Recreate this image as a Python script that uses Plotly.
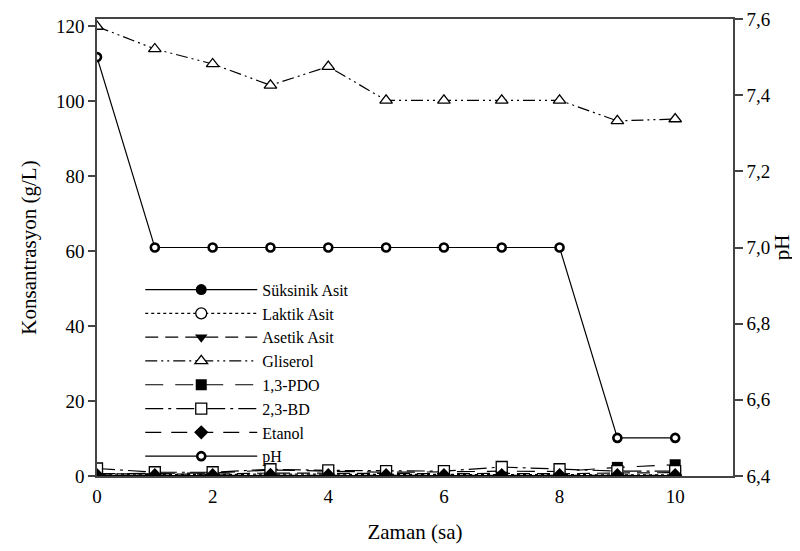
import plotly.graph_objects as go

zaman = [0, 1, 2, 3, 4, 5, 6, 7, 8, 9, 10]

suksinik = [0.1, 0.1, 0.1, 0.1, 0.1, 0.1, 0.1, 0.1, 0.1, 0.1, 0.1]
laktik = [0.5, 0.4, 0.4, 0.5, 0.5, 0.4, 0.4, 0.5, 0.4, 0.3, 0.3]
asetik = [0.6, 0.5, 0.5, 0.8, 0.7, 0.6, 0.6, 0.7, 0.6, 0.8, 0.9]
gliserol = [120, 114, 110, 104.3, 109.3, 100.3, 100.3, 100.3, 100.3, 94.8, 95.3]
pdo = [0.6, 0.7, 0.8, 1.6, 1.2, 1.0, 1.1, 1.3, 1.2, 2.3, 3.0]
bd = [2.0, 1.0, 1.0, 1.8, 1.5, 1.3, 1.3, 2.4, 1.8, 1.3, 1.3]
etanol = [0.2, 0.2, 0.2, 0.3, 0.2, 0.2, 0.2, 0.2, 0.2, 0.2, 0.2]
ph = [7.5, 7.0, 7.0, 7.0, 7.0, 7.0, 7.0, 7.0, 7.0, 6.5, 6.5]

x_ticks = [0, 2, 4, 6, 8, 10]
y_ticks = [0, 20, 40, 60, 80, 100, 120]
ph_ticks = [6.4, 6.6, 6.8, 7.0, 7.2, 7.4, 7.6]

FONT = "Liberation Serif"
LW = 1.2

series = [
    ("Süksinik Asit", suksinik, "solid", "circle", "black", 0),
    ("Laktik Asit", laktik, "dot", "circle", "white", 1.3),
    ("Asetik Asit", asetik, "13px,7px", "triangle-down", "black", 0),
    ("Gliserol", gliserol, "12px,4px,2px,4px,2px,4px", "triangle-up", "white", 1.3),
    ("1,3-PDO", pdo, "18px,12px", "square", "black", 0),
    ("2,3-BD", bd, "18px,5px,3px,5px", "square", "white", 1.3),
    ("Etanol", etanol, "16px,10px", "diamond", "black", 0),
]

fig = go.Figure()
for name, vals, dash, sym, fill, mlw in series:
    fig.add_trace(go.Scatter(
        x=zaman, y=vals, name=name, mode="lines+markers",
        line=dict(color="black", width=LW, dash=dash),
        marker=dict(symbol=sym, size=11, color=fill,
                    line=dict(color="black", width=mlw)),
    ))

fig.add_trace(go.Scatter(
    x=zaman, y=ph, name="pH", mode="lines+markers", yaxis="y2",
    line=dict(color="black", width=LW),
    marker=dict(symbol="circle", size=8, color="white",
                line=dict(color="black", width=2.6)),
))

axcol = "#444444"
tfont = dict(family=FONT, size=21, color="black")
fig.update_layout(
    width=800, height=551,
    margin=dict(l=89, r=75, t=11, b=83),
    paper_bgcolor="white", plot_bgcolor="white",
    separators=",.",
    font=dict(family=FONT, size=19, color="black"),
    xaxis=dict(
        range=[0, 11], tickvals=x_ticks, showgrid=False, zeroline=False,
        showline=True, linecolor=axcol, linewidth=1.5, mirror=True,
        ticks="", ticklabelstandoff=2, automargin=False,
        title=dict(text="Zaman (sa)", font=tfont, standoff=19),
    ),
    yaxis=dict(
        range=[0, 122], tickvals=y_ticks, showgrid=False, zeroline=False,
        showline=True, linecolor=axcol, linewidth=1.5, automargin=False,
        ticks="outside", ticklen=7, tickcolor=axcol, tickwidth=1.5,
        title=dict(text="Konsantrasyon (g/L)", font=tfont, standoff=14),
    ),
    yaxis2=dict(
        range=[6.4, 7.6], tickvals=ph_ticks, tickformat=".1f",
        overlaying="y", side="right", showgrid=False, zeroline=False,
        showline=True, linecolor=axcol, linewidth=1.5, automargin=False,
        ticks="outside", ticklen=8, tickcolor=axcol, tickwidth=1.5,
        title=dict(text="pH", font=tfont, standoff=2),
    ),
    showlegend=True,
    legend=dict(
        x=0.068, y=0.445, xanchor="left", yanchor="top",
        bgcolor="rgba(0,0,0,0)", borderwidth=0,
        font=dict(family=FONT, size=16), itemwidth=112,
        tracegroupgap=0,
    ),
)

fig.write_html("out.html")
